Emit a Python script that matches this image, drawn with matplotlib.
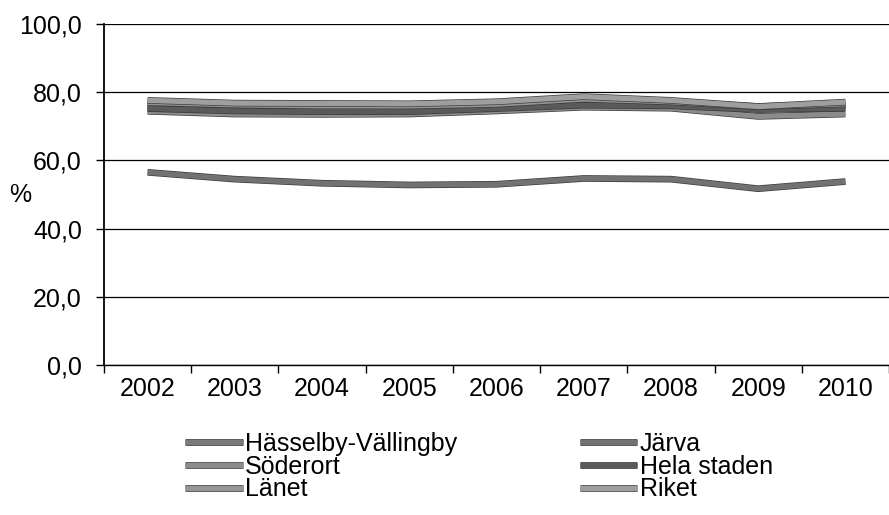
import numpy as np
import matplotlib
matplotlib.use('Agg')
import matplotlib.pyplot as plt
import matplotlib.patheffects as pe

plt.rcParams['font.family'] = ['Liberation Sans', 'DejaVu Sans']

years = ['2002', '2003', '2004', '2005', '2006', '2007', '2008', '2009', '2010']
hasselby = [76.0, 75.2, 75.0, 75.0, 75.8, 77.0, 76.5, 75.3, 76.0]
jarva = [56.5, 54.5, 53.3, 52.8, 53.0, 54.7, 54.5, 51.7, 53.8]
soderort = [74.4, 73.6, 73.5, 73.6, 74.5, 75.6, 75.3, 72.9, 73.6]
hela_staden = [75.2, 74.5, 74.3, 74.3, 75.2, 76.2, 76.0, 74.9, 75.3]
lanet = [77.0, 76.3, 76.0, 76.0, 76.5, 78.0, 77.2, 75.8, 76.6]
riket = [77.6, 76.8, 76.7, 76.6, 77.2, 78.7, 77.6, 75.8, 77.1]

names = ['Hässelby-Vällingby', 'Järva', 'Söderort', 'Hela staden', 'Länet', 'Riket']
series = [hasselby, jarva, soderort, hela_staden, lanet, riket]
colors = ['#7a7a7a', '#727272', '#8c8c8c', '#5a5a5a', '#969696', '#9e9e9e']

fig = plt.figure(figsize=(8.89, 5.15), dpi=100)
ax = fig.add_axes([104 / 889, 1 - 365 / 515, 1 - 104 / 889, (365 - 24) / 515])

x = np.arange(len(years))
lines = {}
for name, vals, c in zip(names, series, colors):
    ln, = ax.plot(x, vals, color=c, lw=3.8, solid_capstyle='butt',
                  path_effects=[pe.Stroke(linewidth=4.8, foreground='#3a3a3a'), pe.Normal()])
    lines[name] = ln

fs = 18
ax.set_xlim(-0.5, (889 - 147.8) / 87.86)
ax.set_ylim(0, 100)
ax.set_yticks(np.arange(0, 101, 20))
ax.set_yticklabels([f'{v:.1f}'.replace('.', ',') for v in np.arange(0, 101, 20)], fontsize=fs)
ax.set_xticks(x)
ax.set_xticklabels(years, fontsize=fs)
ax.set_xticks(np.arange(-0.5, 9, 1), minor=True)
ax.tick_params(axis='x', which='major', length=0, pad=9)
ax.tick_params(axis='x', which='minor', length=6, width=1, direction='out')
ax.tick_params(axis='y', length=6, width=1, direction='out', pad=10)

for s in ['top', 'right']:
    ax.spines[s].set_visible(False)
ax.spines['left'].set_linewidth(1.3)
ax.spines['bottom'].set_linewidth(1.0)
ax.grid(axis='y', color='black', lw=0.9)
ax.set_axisbelow(True)

fig.text(20 / 889, 1 - 195 / 515, '%', fontsize=fs, ha='center', va='center')

order = ['Hässelby-Vällingby', 'Söderort', 'Länet', 'Järva', 'Hela staden', 'Riket']
leg = fig.legend([lines[n] for n in order], order, ncol=2, loc='upper left',
                 bbox_to_anchor=(185 / 889, 1 - 432 / 515), frameon=False,
                 fontsize=fs, handlelength=2.3, handletextpad=0.1,
                 labelspacing=-0.05, columnspacing=4.9, borderaxespad=0,
                 borderpad=0)

fig.savefig('out.png', dpi=100)
